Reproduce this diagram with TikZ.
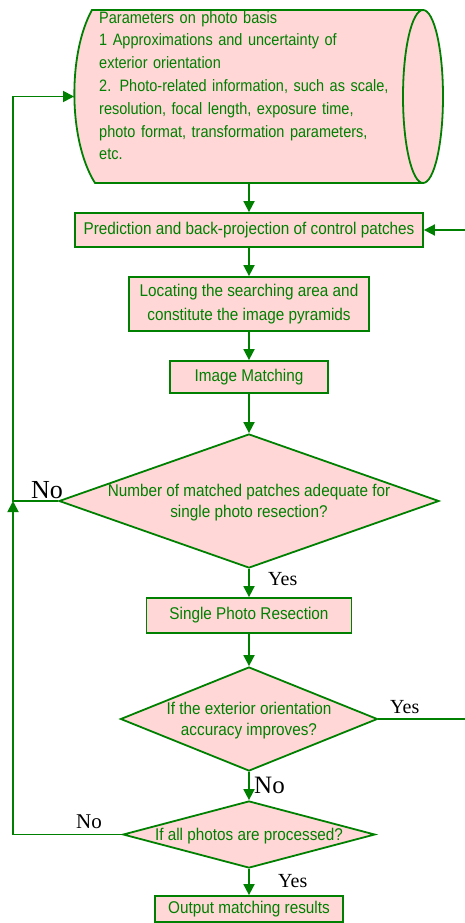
\documentclass[tikz,border=0pt]{standalone}
\usepackage{fontspec}
\setmainfont{Liberation Serif}
\newfontfamily\narrowsf[FakeStretch=0.9]{Liberation Sans}
\newfontfamily\storesf[FakeStretch=0.88]{Liberation Sans}
\usetikzlibrary{shapes.geometric,arrows.meta,positioning}

\definecolor{flowgreen}{RGB}{0,128,0}
\definecolor{flowpink}{RGB}{255,215,215}

\newcommand{\intext}[1]{\smash{\makebox[0pt]{\raisebox{-6pt}{\begin{tabular}{@{}c@{}}#1\end{tabular}}}}}

\tikzset{
  proc/.style={draw=flowgreen, fill=flowpink, line width=1.8pt, rectangle, text=flowgreen,
    font=\narrowsf\fontsize{17}{24}\selectfont, align=center, inner sep=0pt},
  decision/.style={draw=flowgreen, fill=flowpink, line width=1.8pt, diamond, text=flowgreen,
    font=\narrowsf\fontsize{17}{21.5}\selectfont, inner sep=0pt},
  flow/.style={draw=flowgreen, line width=1.8pt, -{Triangle[length=11pt,width=11pt]}},
  link/.style={draw=flowgreen, line width=1.8pt},
  answer/.style={text=black, inner sep=0pt}
}

\begin{document}
\begin{tikzpicture}[x=1pt, y=-1pt]
\useasboundingbox (0,0) rectangle (465,923);
\def\cx{249}

% parameter store
\draw[link, fill=flowpink] (92,10) -- (423,10) arc[start angle=-90, end angle=90, x radius=20, y radius=86.5]
  -- (95,183) .. controls (68,140) and (68,53) .. (92,10) -- cycle;
\draw[link] (423,10) arc[start angle=-90, end angle=-270, x radius=20, y radius=86.5];
\coordinate (cylW) at (74,96.5);
\coordinate (cylS) at (\cx,183);
\node[anchor=north west, text width=320pt, align=left, inner sep=0pt, text=flowgreen,
  font=\storesf\fontsize{16.5}{22.8}\selectfont] (params) at (99,11)
  {Parameters on photo basis\\
   1 Approximations and uncertainty of\\
   exterior orientation\\
   2. Photo-related information, such as scale,\\
   resolution, focal length, exposure time,\\
   photo format, transformation parameters,\\
   etc.};

\node[proc, minimum width=348pt, minimum height=34pt] (b1) at (\cx,230) {Prediction and back-projection of control patches};
\node[proc, minimum width=240pt, minimum height=54pt] (b2) at (\cx,304) {Locating the searching area and\\ constitute the image pyramids};
\node[proc, minimum width=158pt, minimum height=32pt] (b3) at (\cx,377) {Image Matching};
\node[decision, minimum width=380pt, minimum height=134pt] (d1) at (\cx,501) {\intext{Number of matched patches adequate for\\ single photo resection?}};
\node[proc, minimum width=205pt, minimum height=35pt] (b4) at (\cx,615.5) {Single Photo Resection};
\node[decision, minimum width=257pt, minimum height=104pt] (d2) at (\cx,719) {\intext{If the exterior orientation\\ accuracy improves?}};
\node[decision, minimum width=252pt, minimum height=67pt] (d3) at (\cx,834.5) {\intext{If all photos are processed?}};
\node[proc, minimum width=188pt, minimum height=26pt] (b5) at (\cx,909) {Output matching results};

% answers
\node[answer, anchor=base east, font=\fontsize{26}{26}\selectfont] (no1) at (63,498) {No};
\node[answer, anchor=base west, font=\fontsize{20}{20}\selectfont] (yes1) at (268,585) {Yes};
\node[answer, anchor=base west, font=\fontsize{20}{20}\selectfont] (yes2) at (390,713) {Yes};
\node[answer, anchor=base west, font=\fontsize{25}{25}\selectfont] (no2) at (254,793) {No};
\node[answer, anchor=base west, font=\fontsize{21}{21}\selectfont] (no3) at (76,828) {No};
\node[answer, anchor=base west, font=\fontsize{20}{20}\selectfont] (yes3) at (278,887) {Yes};

% main line
\draw[flow] (cylS) -- (b1.north);
\draw[flow] (b1) -- (b2);
\draw[flow] (b2) -- (b3);
\draw[flow] (b3) -- (d1);
\draw[flow] (d1) -- (b4);
\draw[flow] (b4) -- (d2);
\draw[flow] (d2) -- (d3);
\draw[flow] (d3) -- (b5);

% loops
\coordinate (lft) at (13,0);
\coordinate (rgt) at (468,0);
\draw[flow] (d3.west) -| (lft |- d1.west);
\draw[flow] (d1.west) -- (lft |- d1.west) |- (cylW);
\draw[flow] (d2.east) -| (rgt |- b1.east) -- (b1.east);
\end{tikzpicture}
\end{document}
